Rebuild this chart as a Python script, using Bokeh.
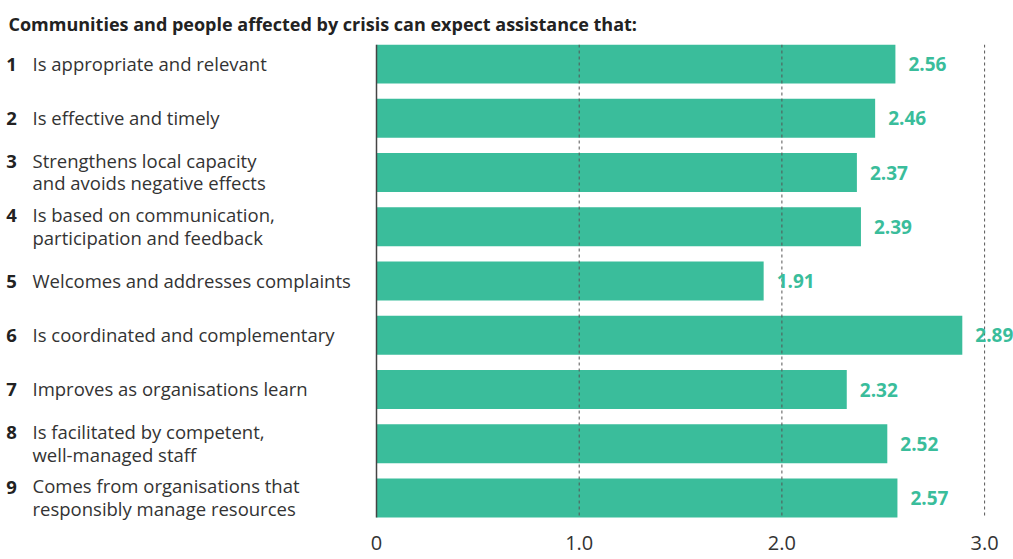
from bokeh.plotting import figure
from bokeh.models import Range1d, FixedTicker, ColumnDataSource
from bokeh.core.properties import value
from bokeh.embed import file_html
from bokeh.resources import INLINE

# ---- data ----
title_text = "Communities and people affected by crisis can expect assistance that:"
numbers = ["1", "2", "3", "4", "5", "6", "7", "8", "9"]
labels = [
    "Is appropriate and relevant",
    "Is effective and timely",
    "Strengthens local capacity\nand avoids negative effects",
    "Is based on communication,\nparticipation and feedback",
    "Welcomes and addresses complaints",
    "Is coordinated and complementary",
    "Improves as organisations learn",
    "Is facilitated by competent,\nwell-managed staff",
    "Comes from organisations that\nresponsibly manage resources",
]
scores = [2.56, 2.46, 2.37, 2.39, 1.91, 2.89, 2.32, 2.52, 2.57]
tick_values = [0, 1, 2, 3]
tick_labels = ["0", "1.0", "2.0", "3.0"]

# ---- style / layout ----
FONT = "Open Sans"
TEAL = "#3abd9b"
TEXT = "#333333"
W, H = 1013, 559
ZERO_PX = 376          # distance of value 0 from the figure's left edge
PX_PER_UNIT = 202.7
LABEL_FS = 18.5
LINE_PX = 22           # spacing of the two lines of a label
LINE_H = 0.91
BAR_H = 0.72

ys = list(range(1, len(scores) + 1))
nlines = [lab.count("\n") + 1 for lab in labels]
num_off = [-(n - 1) * LINE_PX / 2 for n in nlines]

src = ColumnDataSource(dict(
    y=ys, score=scores, score_label=["%.2f" % s for s in scores],
    label=labels, num=numbers, num_off=num_off,
))

p = figure(
    width=W, height=H, output_backend="svg", toolbar_location=None,
    x_range=Range1d(-ZERO_PX / PX_PER_UNIT, (W - ZERO_PX) / PX_PER_UNIT),
    y_range=Range1d(len(scores) + 0.47, 0.64),
    y_axis_location=None,
    min_border_left=0, min_border_right=0, min_border_top=44, min_border_bottom=36,
)
p.outline_line_color = None
p.ygrid.visible = False
p.xgrid.visible = False
p.background_fill_color = "white"
p.border_fill_color = "white"

p.title.text = title_text
p.title.text_font = FONT
p.title.text_font_size = "18px"
p.title.text_font_style = "bold"
p.title.text_color = "#222222"
p.title.offset = 8
p.title.standoff = 17

p.hbar(y="y", left=0, right="score", height=BAR_H, source=src,
       fill_color=TEAL, line_color=None)

y_top = ys[0] - BAR_H / 2
y_bot = ys[-1] + BAR_H / 2
grid_x = tick_values[1:]
# dotted gridlines over the bars
p.segment(x0=grid_x, x1=grid_x, y0=[y_top] * len(grid_x), y1=[y_bot] * len(grid_x),
          line_color="#555555", line_width=1, line_dash="3 3")
# zero line
p.segment(x0=[tick_values[0]], x1=[tick_values[0]], y0=[y_top], y1=[y_bot],
          line_color="#444444", line_width=1.5)

# value labels
p.text(x="score", y="y", text="score_label", source=src, x_offset=13,
       text_align="left", text_baseline="middle", text_font=value(FONT),
       text_font_size="19px", text_font_style="bold", text_color=TEAL)

# category labels
p.text(x=0, y="y", text="label", source=src, x_offset=32 - ZERO_PX, y_offset=-1,
       text_align="left", text_baseline="middle", text_font=value(FONT),
       text_font_size="%spx" % LABEL_FS, text_color=TEXT, text_line_height=LINE_H)
p.text(x=0, y="y", text="num", source=src, x_offset=11 - ZERO_PX, y_offset="num_off",
       text_align="center", text_baseline="middle", text_font=value(FONT),
       text_font_size="%spx" % LABEL_FS, text_font_style="bold", text_color="#222222")

ax = p.xaxis[0]
ax.ticker = FixedTicker(ticks=tick_values)
ax.major_label_overrides = {v: l for v, l in zip(tick_values, tick_labels)}
ax.axis_line_color = None
ax.major_tick_line_color = None
ax.minor_tick_line_color = None
ax.major_tick_out = 0
ax.major_tick_in = 0
ax.major_label_standoff = 12
ax.major_label_text_font = FONT
ax.major_label_text_font_size = "20px"
ax.major_label_text_color = TEXT

open("out.html", "w").write(file_html(p, INLINE))
